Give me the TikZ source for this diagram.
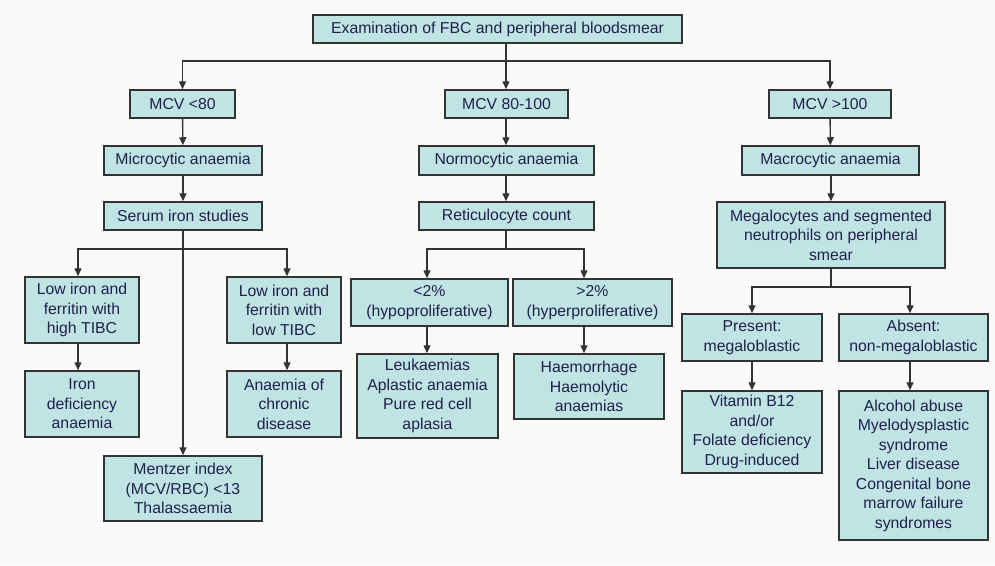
\documentclass[tikz,border=0pt]{standalone}
\usepackage{fontspec}
\setmainfont{Liberation Sans}
\usetikzlibrary{arrows.meta}
\definecolor{boxfill}{HTML}{C0E4E4}
\definecolor{boxline}{HTML}{333333}
\definecolor{boxtext}{HTML}{20204C}
\definecolor{paper}{HTML}{FAFAF8}
\tikzset{
  box/.style={draw=boxline, fill=boxfill, line width=1.5pt, text=boxtext,
    align=center, inner sep=0pt, font=\fontsize{15.8}{19.5}\selectfont},
  arr/.style={draw=boxline, line width=1.4pt, -{Triangle[length=8pt,width=7pt]}},
  ln/.style={draw=boxline, line width=1.4pt}
}
\begin{document}
\begin{tikzpicture}[x=1pt, y=-1pt]
\fill[paper] (0,0) rectangle (995,565);
\useasboundingbox (0,0) rectangle (995,565);

% top
\node[box, minimum width=369pt, minimum height=28pt] (top) at (497.5,29) {Examination of FBC and peripheral bloodsmear};

% MCV bands
\node[box, minimum width=105pt, minimum height=28pt] (mcv1) at (182.5,104) {MCV <80};
\node[box, minimum width=123pt, minimum height=28pt] (mcv2) at (506.5,104) {MCV 80-100};
\node[box, minimum width=122pt, minimum height=28pt] (mcv3) at (830,104) {MCV >100};

\node[box, minimum width=158pt, minimum height=29pt] (micro) at (183,160.5) {Microcytic anaemia};
\node[box, minimum width=175pt, minimum height=29pt] (normo) at (506.5,160.5) {Normocytic anaemia};
\node[box, minimum width=177pt, minimum height=29pt] (macro) at (830.5,160.5) {Macrocytic anaemia};

\node[box, minimum width=158pt, minimum height=28pt] (serum) at (183,216) {Serum iron studies};
\node[box, minimum width=175pt, minimum height=28pt] (retic) at (506.5,216) {Reticulocyte count};
\node[box, minimum width=228pt, minimum height=66pt] (mega) at (831,235) {Megalocytes and segmented\\neutrophils on peripheral\\smear};

% microcytic branch
\node[box, minimum width=114pt, minimum height=66pt] (lowhigh) at (82,310) {Low iron and\\ferritin with\\high TIBC};
\node[box, minimum width=114pt, minimum height=66pt] (lowlow) at (284,310) {Low iron and\\ferritin with\\low TIBC};
\node[box, minimum width=114pt, minimum height=66pt] (irondef) at (82,404) {Iron\\deficiency\\anaemia};
\node[box, minimum width=114pt, minimum height=66pt] (chronic) at (284,404) {Anaemia of\\chronic\\disease};
\node[box, minimum width=158pt, minimum height=65pt] (mentzer) at (183,488.5) {Mentzer index\\(MCV/RBC) <13\\Thalassaemia};

% normocytic branch
\node[box, minimum width=157pt, minimum height=47pt] (lt2) at (429.5,302.5) {<2\%\\(hypoproliferative)};
\node[box, minimum width=159pt, minimum height=47pt] (gt2) at (592.5,302.5) {>2\%\\(hyperproliferative)};
\node[box, minimum width=141pt, minimum height=84pt] (leuk) at (427.5,396) {Leukaemias\\Aplastic anaemia\\Pure red cell\\aplasia};
\node[box, minimum width=150pt, minimum height=65pt] (haem) at (589,386.5) {Haemorrhage\\Haemolytic\\anaemias};

% macrocytic branch
\node[box, minimum width=140pt, minimum height=47pt] (present) at (752,337.5) {Present:\\megaloblastic};
\node[box, minimum width=149pt, minimum height=47pt] (absent) at (913.5,337.5) {Absent:\\non-megaloblastic};
\node[box, minimum width=140pt, minimum height=82pt] (vit) at (752,432) {Vitamin B12\\and/or\\Folate deficiency\\Drug-induced};
\node[box, minimum width=149pt, minimum height=149pt] (alc) at (913.5,465.5) {Alcohol abuse\\Myelodysplastic\\syndrome\\Liver disease\\Congenital bone\\marrow failure\\syndromes};

% branch points
\coordinate (s0) at (506,61);
\coordinate (s1) at (183,249);
\coordinate (s2) at (506,249);
\coordinate (s3) at (831,287);
\coordinate (gtx) at (584,0);
\coordinate (abx) at (910,0);

% connectors from the top
\draw[ln] (top.south -| s0) -- (s0);
\draw[arr] (s0) -- (mcv2.north -| s0);
\draw[arr] (s0) -| (mcv1.north);
\draw[arr] (s0) -| (mcv3.north);

% columns
\draw[arr] (mcv1) -- (micro);
\draw[arr] (micro) -- (serum);
\draw[arr] (mcv2.south -| s0) -- (normo.north -| s0);
\draw[arr] (normo.south -| s0) -- (retic.north -| s0);
\draw[arr] (mcv3) -- (macro);
\draw[arr] (macro.south -| s3) -- (mega.north -| s3);

% serum iron split
\draw[arr] (serum) -- (mentzer);
\draw[arr] (s1) -| ([xshift=-4pt]lowhigh.north);
\draw[arr] (s1) -| ([xshift=3pt]lowlow.north);
\draw[arr] ([xshift=-4pt]lowhigh.south) -- ([xshift=-4pt]irondef.north);
\draw[arr] ([xshift=3pt]lowlow.south) -- ([xshift=3pt]chronic.north);

% reticulocyte split
\draw[ln] (retic.south -| s2) -- (s2);
\draw[arr] (s2) -| ([xshift=-2.5pt]lt2.north);
\draw[arr] (s2) -| (lt2.north -| gtx);
\draw[arr] ([xshift=-2.5pt]lt2.south) -- ([xshift=-2.5pt]leuk.north -| lt2);
\draw[arr] (gt2.south -| gtx) -- (haem.north -| gtx);

% megalocyte split
\draw[ln] (mega.south -| s3) -- (s3);
\draw[arr] (s3) -| (present.north);
\draw[arr] (s3) -| (absent.north -| abx);
\draw[arr] (present) -- (vit);
\draw[arr] (absent.south -| abx) -- (alc.north -| abx);
\end{tikzpicture}
\end{document}
